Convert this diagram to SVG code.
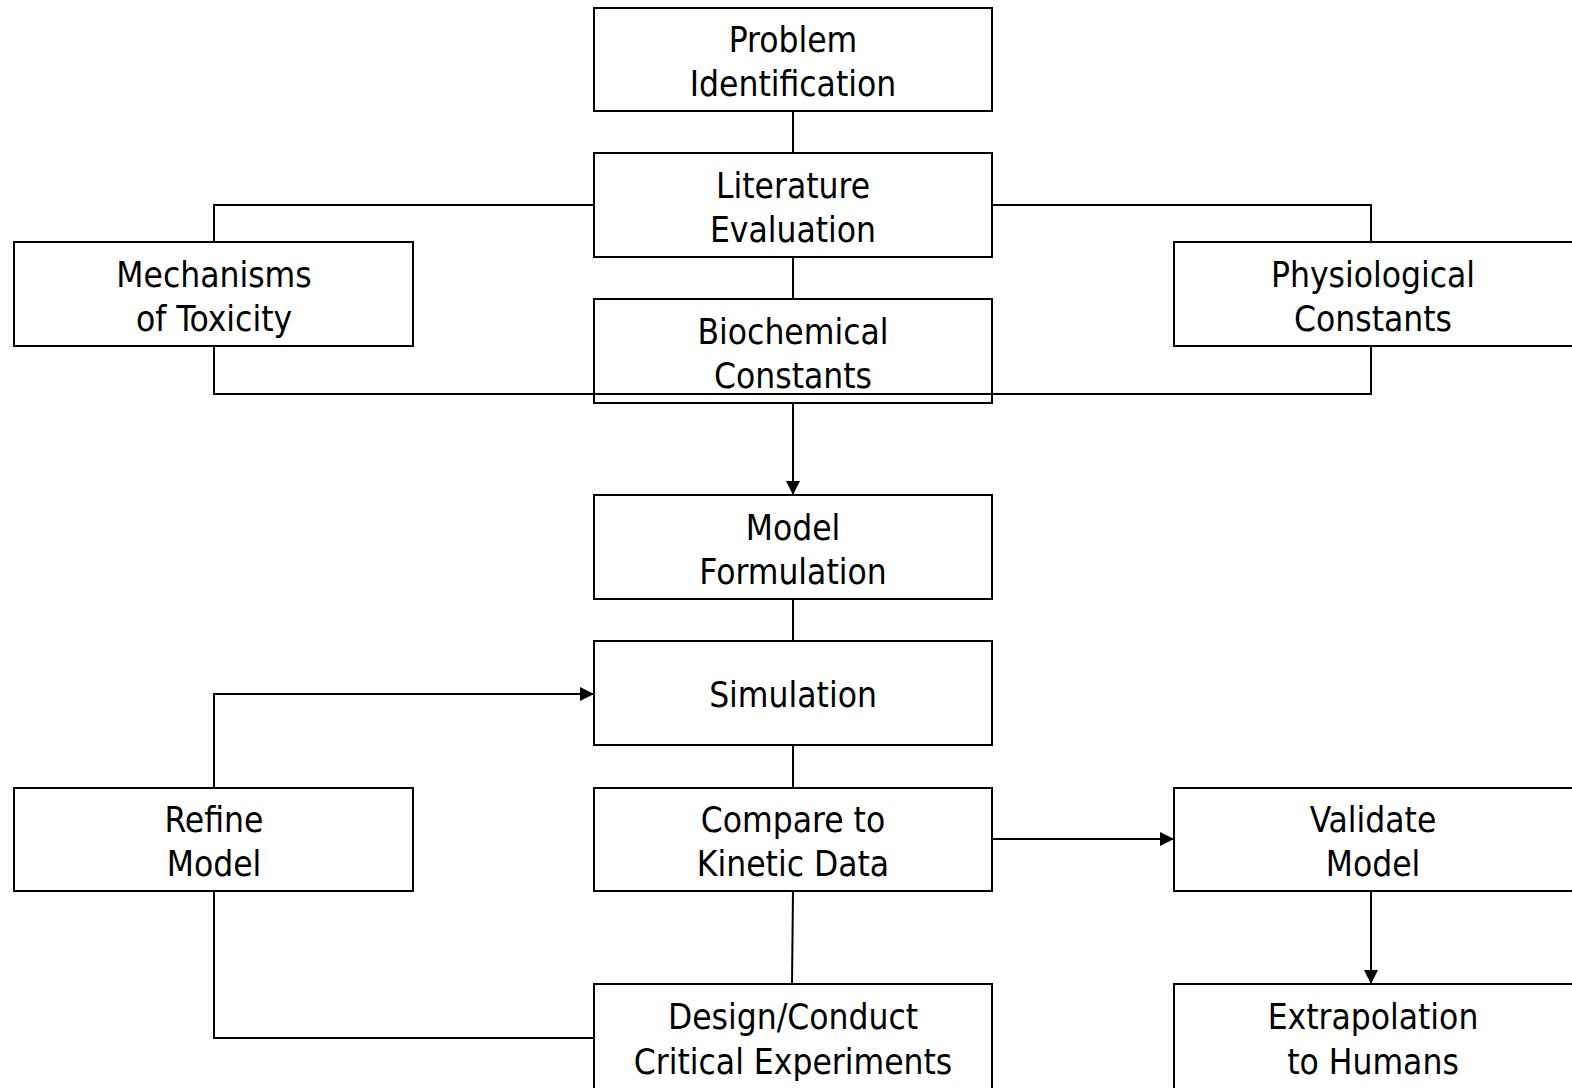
<svg xmlns="http://www.w3.org/2000/svg" width="1572" height="1088" viewBox="0 0 1572 1088">
<defs>
<marker id="arr" viewBox="0 0 14 14" refX="14" refY="7" markerWidth="14" markerHeight="14" markerUnits="userSpaceOnUse" orient="auto">
<path d="M0,0 L14,7 L0,14 Z" fill="#000"/>
</marker>
<style>
.box{fill:#fff;stroke:#000;stroke-width:2}
.ln{fill:none;stroke:#000;stroke-width:2}
.ar{fill:none;stroke:#000;stroke-width:2;marker-end:url(#arr)}
text{font-family:"DejaVu Sans Condensed","DejaVu Sans","Liberation Sans",sans-serif;font-size:35px;fill:#000;text-anchor:middle}
</style>
</defs>
<rect width="1572" height="1088" fill="#fff"/>
<g id="connectors">
<line class="ln" x1="793" y1="111" x2="793" y2="153"/>
<line class="ln" x1="793" y1="257" x2="793" y2="299"/>
<polyline class="ln" points="594,205 214,205 214,242"/>
<polyline class="ln" points="992,205 1371,205 1371,242"/>
<polyline class="ln" points="214,347 214,394 1371,394 1371,347"/>
<line class="ar" x1="793" y1="403" x2="793" y2="495"/>
<line class="ln" x1="793" y1="599" x2="793" y2="641"/>
<line class="ln" x1="793" y1="745" x2="793" y2="788"/>
<polyline class="ar" points="214,788 214,694 594,694"/>
<polyline class="ln" points="214,891 214,1038 594,1038"/>
<line class="ln" x1="793" y1="891" x2="792" y2="984"/>
<line class="ar" x1="992" y1="839" x2="1174" y2="839"/>
<line class="ar" x1="1371" y1="891" x2="1371" y2="984"/>
</g>
<g id="problem"><rect class="box" x="594" y="8" width="398" height="103"/><text x="793" y="52">Problem</text><text x="793" y="96">Identification</text></g>
<g id="literature"><rect class="box" x="594" y="153" width="398" height="104"/><text x="793" y="198">Literature</text><text x="793" y="242">Evaluation</text></g>
<g id="mechanisms"><rect class="box" x="14" y="242" width="399" height="104"/><text x="214" y="287">Mechanisms</text><text x="214" y="331">of Toxicity</text></g>
<g id="physiological"><rect class="box" x="1174" y="242" width="400" height="104"/><text x="1373" y="287">Physiological</text><text x="1373" y="331">Constants</text></g>
<g id="biochemical"><rect class="box" x="594" y="299" width="398" height="104" fill="none" style="fill:none"/><text x="793" y="344">Biochemical</text><text x="793" y="388">Constants</text></g>
<g id="model"><rect class="box" x="594" y="495" width="398" height="104"/><text x="793" y="540">Model</text><text x="793" y="584">Formulation</text></g>
<g id="simulation"><rect class="box" x="594" y="641" width="398" height="104"/><text x="793" y="707">Simulation</text></g>
<g id="refine"><rect class="box" x="14" y="788" width="399" height="103"/><text x="214" y="832">Refine</text><text x="214" y="876">Model</text></g>
<g id="compare"><rect class="box" x="594" y="788" width="398" height="103"/><text x="793" y="832">Compare to</text><text x="793" y="876">Kinetic Data</text></g>
<g id="validate"><rect class="box" x="1174" y="788" width="400" height="103"/><text x="1373" y="832">Validate</text><text x="1373" y="876">Model</text></g>
<g id="design"><rect class="box" x="594" y="984" width="398" height="110"/><text x="793" y="1029">Design/Conduct</text><text x="793" y="1074">Critical Experiments</text></g>
<g id="extrapolation"><rect class="box" x="1174" y="984" width="400" height="110"/><text x="1373" y="1029">Extrapolation</text><text x="1373" y="1074">to Humans</text></g>
</svg>
